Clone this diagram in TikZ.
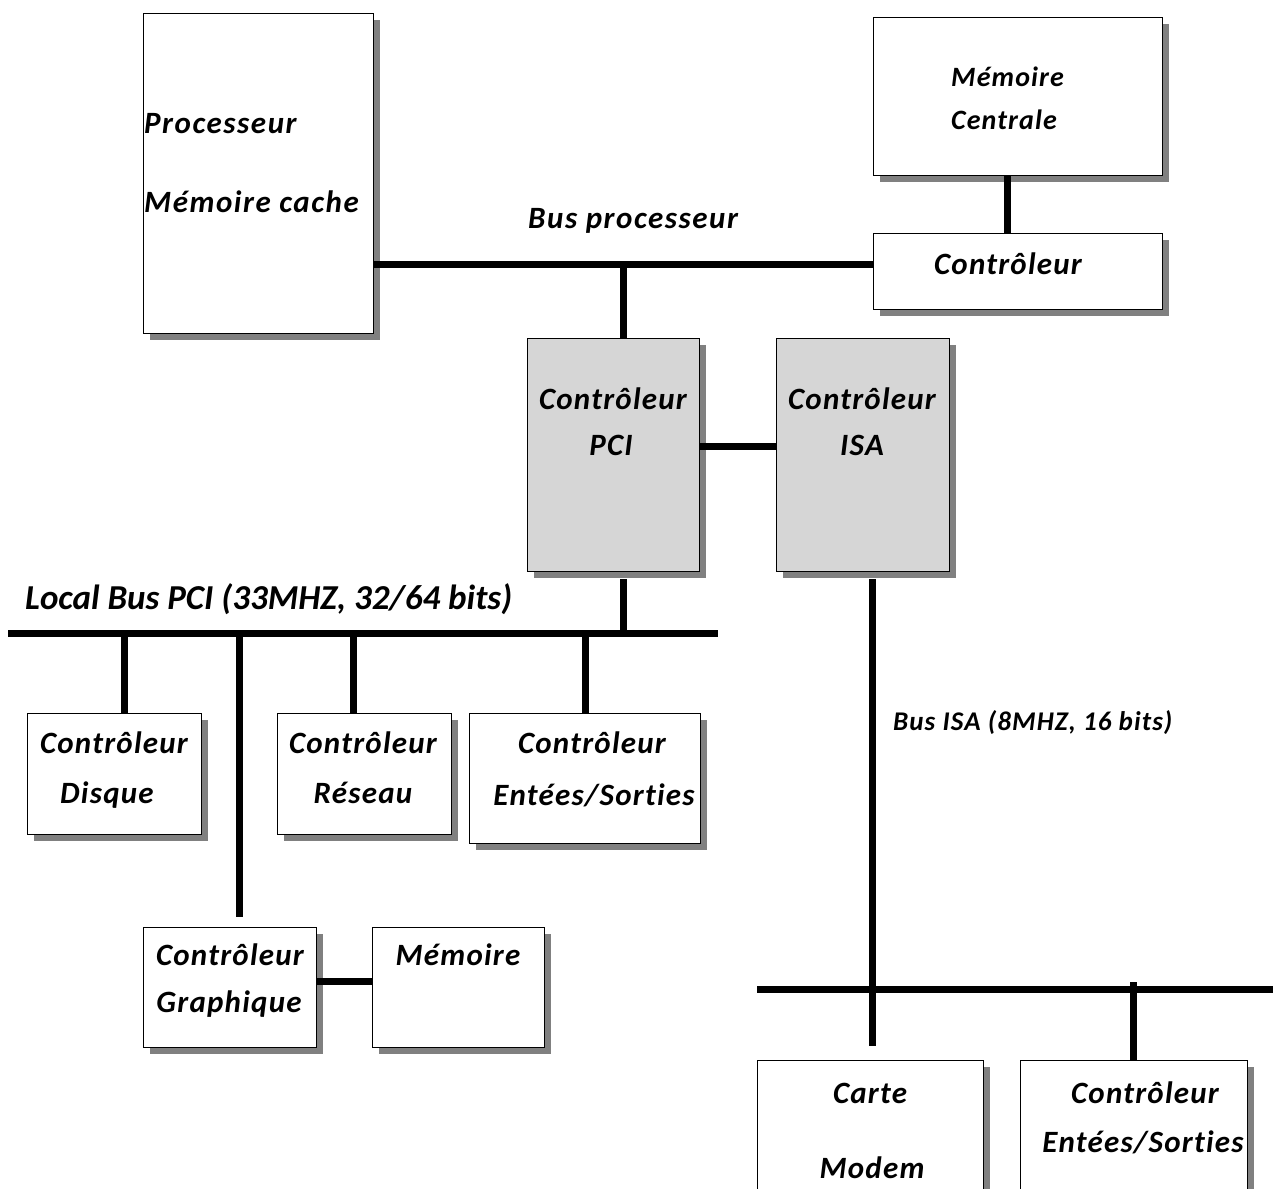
\documentclass[tikz,border=0pt]{standalone}
\usepackage{fontspec}
\setmainfont{Carlito}[Ligatures=NoCommon]
\usetikzlibrary{shadows}
% text faces used in the figure
\newcommand\bigface{\fontsize{31}{36}\selectfont\bfseries\itshape\addfontfeatures{LetterSpace=4}}
\newcommand\topface{\fontsize{31}{36}\selectfont\bfseries\itshape\addfontfeatures{LetterSpace=5}}
\newcommand\smallface{\fontsize{28}{33}\selectfont\bfseries\itshape\addfontfeatures{LetterSpace=4}}
\newcommand\busface{\fontsize{35}{40}\selectfont\bfseries\itshape}
\newcommand\isaface{\fontsize{27}{31}\selectfont\bfseries\itshape\addfontfeatures{LetterSpace=4}}
\tikzset{
  unit box/.style={draw=black, line width=1.4pt, fill=white, rectangle,
    inner sep=0pt, anchor=north west,
    drop shadow={shadow xshift=6pt, shadow yshift=-6pt, fill=black!50, opacity=1}},
  chip/.style={unit box, fill=black!16},
  wire/.style={line width=7pt},
  txt/.style={inner sep=0pt, anchor=base, font=\bigface},
}
\begin{document}
\begin{tikzpicture}[x=1pt, y=-1pt]
\useasboundingbox (0,0) rectangle (1273,1188);
\clip (0,0) rectangle (1273,1188);

% ---- boxes ----
\node[unit box, minimum width=230pt, minimum height=320pt] (proc) at (143,13) {};
\node[unit box, minimum width=289pt, minimum height=158pt] (memc) at (873,17) {};
\node[unit box, minimum width=289pt, minimum height=76pt]  (ctrl) at (873,233) {};
\node[chip, minimum width=172pt, minimum height=233pt] (pci) at (527,338) {};
\node[chip, minimum width=173pt, minimum height=233pt] (isa) at (776,338) {};
\node[unit box, minimum width=174pt, minimum height=121pt] (disk) at (27,713) {};
\node[unit box, minimum width=174pt, minimum height=121pt] (net) at (277,713) {};
\node[unit box, minimum width=231pt, minimum height=130pt] (io) at (469,713) {};
\node[unit box, minimum width=173pt, minimum height=120pt] (gfx) at (143,927) {};
\node[unit box, minimum width=172pt, minimum height=120pt] (mem) at (372,927) {};
\node[unit box, minimum width=226pt, minimum height=180pt] (modem) at (757,1060) {};
\node[unit box, minimum width=227pt, minimum height=180pt] (io2) at (1020,1060) {};

% ---- processor bus ----
\coordinate (bp) at (623,264);
\draw[wire] (proc.east |- bp) -- (ctrl.west |- bp);
\draw[wire] (bp) -- (bp |- pci.north);
\coordinate (mcx) at (1007,200);
\draw[wire] (mcx |- memc.south) -- (mcx |- ctrl.north);
\coordinate (pi) at (0,446);
\draw[wire] (pci.east |- pi) -- (isa.west |- pi);

% ---- local PCI bus ----
\coordinate (lbL) at (8,633);
\coordinate (lbR) at (718,633);
\draw[wire] (lbL) -- (lbR);
\coordinate (pcid) at (623,579);
\draw[wire] (pcid) -- (pcid |- lbL);
\coordinate (dkx) at (124,633);
\draw[wire] (dkx) -- (dkx |- disk.north);
\coordinate (gfx1) at (239,633);
\coordinate (gfx2) at (239,917);
\draw[wire] (gfx1) -- (gfx2);
\coordinate (ntx) at (353,633);
\draw[wire] (ntx) -- (ntx |- net.north);
\coordinate (iox) at (585,633);
\draw[wire] (iox) -- (iox |- io.north);
\coordinate (gm) at (0,981);
\draw[wire] (gfx.east |- gm) -- (mem.west |- gm);

% ---- ISA bus ----
\coordinate (isa1) at (872,579);
\coordinate (isa2) at (872,1046);
\draw[wire] (isa1) -- (isa2);
\coordinate (ibL) at (757,989);
\coordinate (ibR) at (1273,989);
\draw[wire] (ibL) -- (ibR);
\coordinate (io2x) at (1133,982);
\draw[wire] (io2x) -- (io2x |- io2.north);

% ---- labels ----
\node[txt, anchor=base west, font=\topface] (t1) at (144,133) {Processeur};
\node[txt, anchor=base west, font=\topface] (t2) at (144,212) {Mémoire cache};
\node[txt, anchor=base west, font=\smallface] (t3) at (951,87) {Mémoire};
\node[txt, anchor=base west, font=\smallface] (t4) at (951,129) {Centrale};
\node[txt] (t5) at (1008,274) {Contrôleur};
\node[txt, anchor=base west, font=\topface] (t6) at (528,228) {Bus processeur};
\node[txt] (t7) at (613,409) {Contrôleur};
\node[txt] (t8) at (611,455) {PCI};
\node[txt] (t9) at (862,409) {Contrôleur};
\node[txt] (t10) at (862,455) {ISA};
\node[txt, anchor=base west, font=\busface] (t11) at (25,609) {Local Bus PCI (33MHZ, 32/64 bits)};
\node[txt, anchor=base west, font=\isaface] (t12) at (893,730) {Bus ISA (8MHZ, 16 bits)};
\node[txt] (t13) at (114,753) {Contrôleur};
\node[txt] (t14) at (107,803) {Disque};
\node[txt] (t15) at (363,753) {Contrôleur};
\node[txt] (t16) at (363,803) {Réseau};
\node[txt] (t17) at (592,753) {Contrôleur};
\node[txt] (t18) at (594,805) {Entées/Sorties};
\node[txt] (t19) at (230,965) {Contrôleur};
\node[txt] (t20) at (229,1012) {Graphique};
\node[txt] (t21) at (458,965) {Mémoire};
\node[txt] (t22) at (870,1103) {Carte};
\node[txt] (t23) at (872,1178) {Modem};
\node[txt] (t24) at (1145,1103) {Contrôleur};
\node[txt] (t25) at (1143,1152) {Entées/Sorties};
\end{tikzpicture}
\end{document}
